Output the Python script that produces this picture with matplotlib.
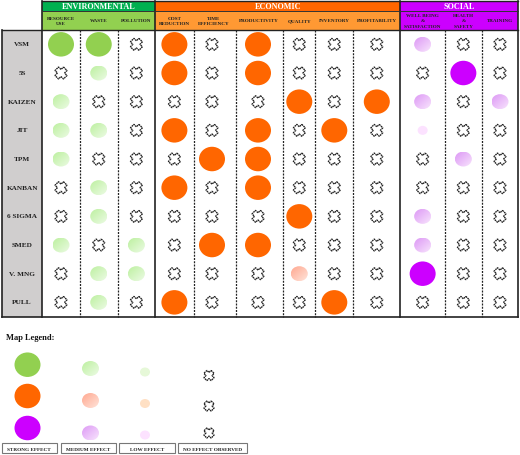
import matplotlib
matplotlib.use("Agg")
import matplotlib.pyplot as plt
import numpy as np
from matplotlib.patches import Rectangle, Ellipse, PathPatch
from matplotlib.path import Path
from matplotlib.colors import to_rgb

plt.rcParams['font.family'] = ['Liberation Serif', 'DejaVu Serif']

# ---------- data ----------
tools = ["VSM", "5S", "KAIZEN", "JIT", "TPM", "KANBAN", "6 SIGMA", "SMED", "V. MNG", "PULL"]
groups = ["ENVIRONMENTAL", "ECONOMIC", "SOCIAL"]
group_sizes = [3, 6, 3]
criteria = ["RESOURCE\nUSE", "WASTE", "POLLUTION",
            "COST\nREDUCTION", "TIME\nEFFICIENCY", "PRODUCTIVITY", "QUALITY", "INVENTORY", "PROFITABILITY",
            "WELL BEING\n&\nSATISFACTION", "HEALTH\n&\nSAFETY", "TRAINING"]
# 0 none, 1 low, 2 medium, 3 strong
effects = [
    [3, 3, 0, 3, 0, 3, 0, 0, 0, 2, 0, 0],
    [0, 2, 0, 3, 0, 3, 0, 0, 0, 0, 3, 0],
    [2, 0, 0, 0, 0, 0, 3, 0, 3, 2, 0, 2],
    [2, 2, 0, 3, 0, 3, 0, 3, 0, 1, 0, 0],
    [2, 0, 0, 0, 3, 3, 0, 0, 0, 0, 2, 0],
    [0, 2, 0, 3, 0, 3, 0, 0, 0, 0, 0, 0],
    [0, 2, 0, 0, 0, 0, 3, 0, 0, 2, 0, 0],
    [2, 0, 2, 0, 3, 3, 0, 0, 0, 2, 0, 0],
    [0, 2, 2, 0, 0, 0, 2, 0, 0, 3, 0, 0],
    [0, 2, 0, 3, 0, 0, 0, 3, 0, 0, 0, 0],
]
legend_labels = ["STRONG EFFECT", "MEDIUM EFFECT", "LOW EFFECT", "NO EFFECT OBSERVED"]

# ---------- layout (pixels) ----------
W, H = 520, 456
col_edges = [42, 80, 117.5, 155.3, 193.5, 235.7, 283.3, 315.3, 353.3, 400.3, 445, 481.7, 518.3]
col_nudge = [0, 0, 0, 0, -2.6, -1.5, 0, 0, 0, 0, 0, 0]
label_left = 2.3
top, head_mid, head_bot, bottom = 2, 11.7, 31, 317.7
row_h = (bottom - head_bot) / len(tools)

strong = {0: "#92d050", 1: "#ff6600", 2: "#cc00ff"}
medium = {0: ("#bdf0a0", "#ecfbe4"), 1: ("#ffa890", "#ffe4da"), 2: ("#dd99f5", "#f8e4fd")}
low = {0: "#e6f8d8", 1: "#ffe0c4", 2: "#fce2ff"}
head_col = {0: "#00b050", 1: "#ff6600", 2: "#cc00ff"}
sub_col = {0: "#92d050", 1: "#ff9933", 2: "#cc00ff"}

fig = plt.figure(figsize=(W / 100, H / 100), dpi=100)
ax = fig.add_axes([0, 0, 1, 1])
ax.set_xlim(0, W)
ax.set_ylim(H, 0)
ax.axis("off")

grad = np.linspace(0, 1, 40)
G = (grad[None, :] + grad[:, None]) / 2


def dot(x, y, level, g):
    if level == 3:
        ax.add_patch(Ellipse((x, y), 26, 24.5, fc=strong[g], ec="none", zorder=4))
    elif level == 2:
        w, h = 17, 15
        e = Ellipse((x, y), w, h, fc="none", ec="none", zorder=4)
        ax.add_patch(e)
        a, b = np.array(to_rgb(medium[g][0])), np.array(to_rgb(medium[g][1]))
        img = a[None, None, :] * (1 - G[..., None]) + b[None, None, :] * G[..., None]
        im = ax.imshow(img, extent=(x - w / 2, x + w / 2, y + h / 2, y - h / 2),
                       zorder=4, aspect="auto", interpolation="bilinear")
        im.set_clip_path(e)
    elif level == 1:
        ax.add_patch(Ellipse((x, y), 10, 9, fc=low[g], ec="none", zorder=4))


def cross(x, y, s=1.0):
    L, w = 6.0 * s, 2.5 * s
    arm = np.array([(-w, -L), (w, -L), (w, -w), (L, -w), (L, w), (w, w),
                    (w, L), (-w, L), (-w, w), (-L, w), (-L, -w), (-w, -w), (-w, -L)])
    t = np.pi / 4
    R = np.array([[np.cos(t), -np.sin(t)], [np.sin(t), np.cos(t)]])
    verts = arm @ R.T + np.array([x, y])
    codes = [Path.MOVETO] + [Path.LINETO] * (len(verts) - 2) + [Path.CLOSEPOLY]
    ax.add_patch(PathPatch(Path(verts, codes), fc="white", ec="#222222", lw=0.95,
                           ls=(0, (1.3, 0.5)), zorder=4))


# row label column
ax.add_patch(Rectangle((label_left, head_bot), col_edges[0] - label_left, bottom - head_bot,
                       fc="#d0cece", ec="none", zorder=1))
for i, t in enumerate(tools):
    ax.text((label_left + col_edges[0]) / 2, head_bot + row_h * (i + .5) - 0.5, t, fontsize=5.2,
            fontweight="bold", ha="center", va="center", color="#222222", zorder=5)

# headers
idx = 0
for g, (name, n) in enumerate(zip(groups, group_sizes)):
    x0, x1 = col_edges[idx], col_edges[idx + n]
    ax.add_patch(Rectangle((x0, top), x1 - x0, head_mid - top, fc=head_col[g], ec="none", zorder=1))
    ax.add_patch(Rectangle((x0, head_mid), x1 - x0, head_bot - head_mid, fc=sub_col[g], ec="none", zorder=1))
    ax.text((x0 + x1) / 2, (top + head_mid) / 2 + .3, name, color="white", fontsize=5.9,
            fontweight="bold", ha="center", va="center", zorder=5)
    for c in range(idx, idx + n):
        ax.text((col_edges[c] + col_edges[c + 1]) / 2 + col_nudge[c] * .5, (head_mid + head_bot) / 2, criteria[c],
                fontsize=3.7, fontweight="bold", ha="center", va="center", color="#222222",
                linespacing=1.45, zorder=5)
    idx += n

# cells
group_of = [g for g, n in enumerate(group_sizes) for _ in range(n)]
for r, row in enumerate(effects):
    y = head_bot + row_h * (r + .5)
    for c, v in enumerate(row):
        x = (col_edges[c] + col_edges[c + 1]) / 2 + col_nudge[c]
        if v:
            dot(x, y, v, group_of[c])
        else:
            cross(x, y)

# grid lines
group_edges = np.cumsum([0] + group_sizes)
for i, x in enumerate(col_edges):
    if i in group_edges:
        ax.plot([x, x], [top, bottom], color="#222222", lw=1.2, zorder=3)
    else:
        ax.plot([x, x], [head_bot, bottom], color="#222222", lw=0.9, ls=(0, (1.6, 1.0)), zorder=3)
ax.plot([col_edges[0], col_edges[-1]], [top, top], color="#222222", lw=1.0, zorder=3)
ax.plot([col_edges[0], col_edges[-1]], [head_mid, head_mid], color="#333333", lw=0.7, zorder=3)
ax.plot([label_left, col_edges[-1]], [head_bot, head_bot], color="#222222", lw=1.0, zorder=3)
ax.plot([label_left, col_edges[-1]], [bottom, bottom], color="#222222", lw=1.2, zorder=3)
ax.plot([label_left, label_left], [head_bot, bottom], color="#222222", lw=1.2, zorder=3)

# legend
ax.text(6, 338.5, "Map Legend:", fontsize=6.0, fontweight="bold", ha="left", va="center", color="#111111")
leg_x = [27.5, 90.5, 145, 209]
leg_y = [[365.7, 397, 429], [369.5, 401.5, 434], [373, 404.5, 436], [376.5, 407, 434]]
levels = [3, 2, 1, 0]
for lx, ly, lev in zip(leg_x, leg_y, levels):
    for g, y in enumerate(ly):
        if lev:
            dot(lx, y, lev, g)
        else:
            cross(lx, y, 0.85)

box_edges = [(1.5, 57), (60.5, 115.5), (119, 174.5), (178, 247)]
for (x0, x1), lab in zip(box_edges, legend_labels):
    ax.add_patch(Rectangle((x0, 444.5), x1 - x0, 10, fc="white", ec="#777777", lw=0.8, zorder=5))
    ax.text((x0 + x1) / 2, 449.8, lab, fontsize=3.8, fontweight="bold", ha="center", va="center",
            color="#222222", zorder=6)

fig.savefig("out.png", dpi=100)
